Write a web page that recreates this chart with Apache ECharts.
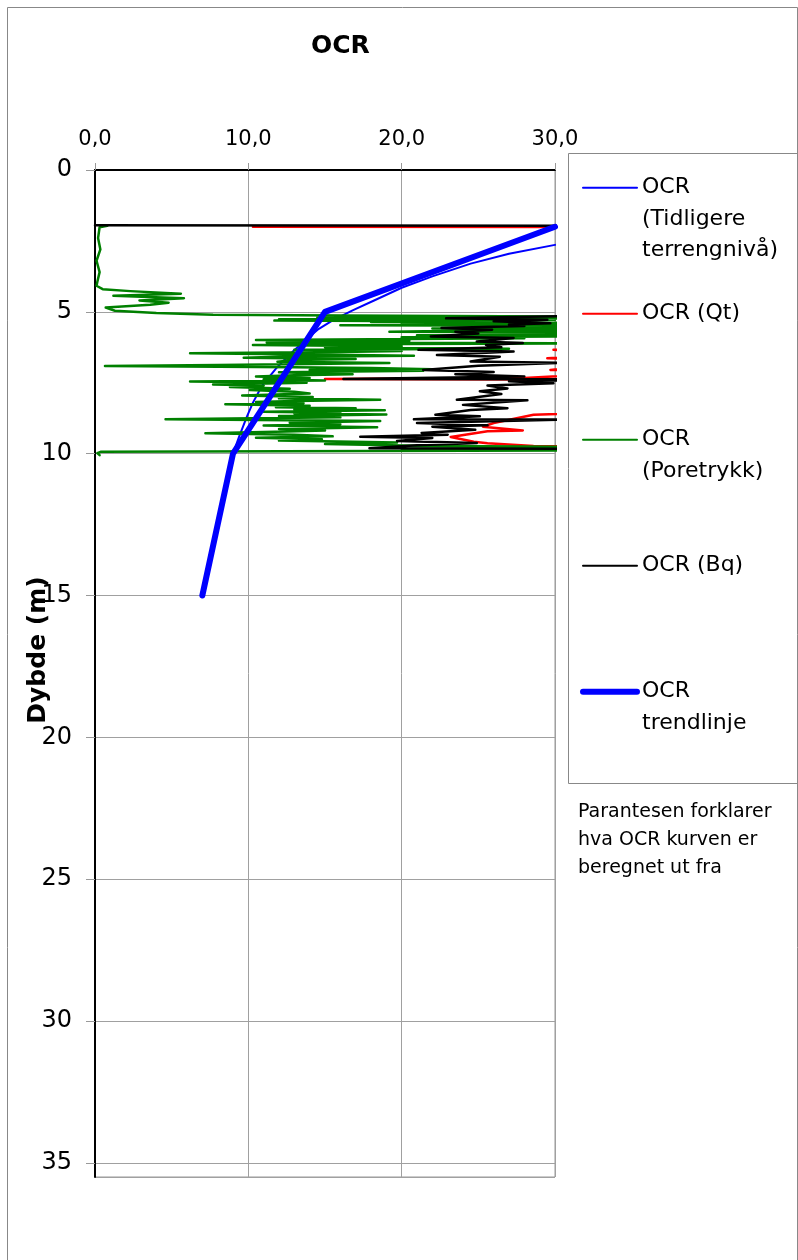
<!DOCTYPE html>
<html>
<head>
<meta charset="utf-8">
<title>OCR</title>
<script src="https://cdn.jsdelivr.net/npm/echarts@6.0.0/dist/echarts.min.js"></script>
<style>
    html, body { margin: 0; padding: 0; background: #fff; }
    #chart { width: 798px; height: 1260px; }
</style>
</head>
<body>
<div id="chart"></div>
<script>
/*==================== data (OCR, dybde m) ====================*/
var seriesNames = ['OCR (Tidligere terrengnivå)', 'OCR (Qt)', 'OCR (Poretrykk)', 'OCR (Bq)', 'OCR trendlinje'];
var legendLabels = [
    '\n\nOCR\n(Tidligere\nterrengnivå)',
    '\nOCR (Qt)\n',
    '\n\nOCR\n(Poretrykk)\n',
    '\nOCR (Bq)\n',
    '\n\nOCR\ntrendlinje\n'
];
var seriesColors = ['#0000ff', '#ff0000', '#008000', '#000000', '#0000ff'];
var seriesWidths = [2, 2.5, 2.5, 2.5, 6];
var legendWidths = [2, 2, 2, 2, 6];

var ocrTidligere = [
    [30, 2.64], [27, 2.95], [24.5, 3.3], [22, 3.75], [20, 4.15], [18.2, 4.6], [16.8, 4.95],
    [15.5, 5.3], [14.6, 5.6], [14.0, 5.87], [12.9, 6.4], [11.8, 7.0], [10.9, 7.6],
    [10.3, 8.2], [9.9, 8.7], [9.4, 9.4], [9.0, 10.0]
];
var ocrQt = [
    [10.3, 2.0], [36, 2.01], [36, 6.3], [29.9, 6.34], [36, 6.4], [29.5, 6.64], [36, 6.7],
    [29.7, 7.05], [36, 7.1], [28, 7.33], [15, 7.37], [36, 7.39], [36, 8.5], [28.6, 8.63],
    [26, 8.92], [25.3, 9.05], [27.9, 9.18], [25.6, 9.21], [23.2, 9.41], [24.7, 9.58],
    [25.6, 9.63], [28.6, 9.73], [36, 9.78]
];
var ocrPoretrykk = [
    [0.8, 1.97], [0.3, 2.02], [0.2, 2.4], [0.35, 2.8], [0.1, 3.2], [0.3, 3.6], [0.15, 3.95],
    [0.1, 4.08], [0.5, 4.2], [2.3, 4.27], [5.6, 4.36], [1.2, 4.43], [5.8, 4.52], [2.9, 4.6],
    [4.8, 4.68], [3.6, 4.75], [0.7, 4.85], [1.3, 4.96], [4.0, 5.04], [7.7, 5.1], [16, 5.13],
    [34, 5.17], [14.5, 5.2], [35, 5.23], [12, 5.26], [30, 5.28], [11.7, 5.31], [22, 5.33],
    [18, 5.36], [33, 5.39], [20, 5.41], [35, 5.44], [16, 5.47], [34, 5.5], [24, 5.53],
    [35, 5.56], [22, 5.59], [33, 5.62], [26, 5.65], [19.2, 5.7], [35, 5.73], [25, 5.77],
    [34, 5.8], [21, 5.83], [35, 5.86], [20, 5.9], [28, 5.93], [10.5, 5.99], [20.5, 6.02],
    [13, 6.04], [17, 6.06], [11.2, 6.08], [35, 6.11], [15, 6.14], [10.3, 6.17], [20, 6.21],
    [15, 6.25], [27, 6.3], [13, 6.34], [20, 6.38], [16, 6.42], [6.2, 6.46], [14, 6.5],
    [20.8, 6.55], [12, 6.58], [9.7, 6.62], [17, 6.66], [13, 6.7], [11.9, 6.76], [19.2, 6.8],
    [14, 6.84], [8, 6.87], [0.65, 6.91], [13, 6.95], [18, 6.98], [22, 7.02], [14, 7.05],
    [21.4, 7.08], [12, 7.13], [16.8, 7.2], [13, 7.24], [10.5, 7.28], [14, 7.33], [11, 7.38],
    [15, 7.42], [6.2, 7.46], [13.8, 7.5], [7.7, 7.56], [11, 7.6], [8.8, 7.65], [12.7, 7.71],
    [10.1, 7.76], [13, 7.82], [14, 7.88], [9.6, 7.95], [14.2, 8.0], [12, 8.05], [18.6, 8.1],
    [13, 8.14], [10.5, 8.18], [13.6, 8.22], [8.5, 8.26], [14, 8.31], [11.8, 8.36], [17, 8.4],
    [13, 8.43], [18.9, 8.47], [11, 8.52], [16, 8.56], [13, 8.58], [19, 8.62], [12, 8.67],
    [16, 8.72], [4.6, 8.79], [18.6, 8.85], [12.7, 8.91], [16, 8.96], [11, 9.01], [18.4, 9.07],
    [12, 9.13], [15, 9.18], [12.5, 9.22], [7.2, 9.28], [13, 9.33], [15.5, 9.39], [10.5, 9.44],
    [14.8, 9.49], [12, 9.54], [19.7, 9.61], [15, 9.66], [21, 9.72], [35, 9.78], [20, 9.83],
    [35, 9.88], [0.4, 9.93], [0.15, 9.98], [0.3, 10.05]
];
var ocrBq = [
    [0, 1.95], [36, 1.97], [36, 5.1], [22.9, 5.23], [29.5, 5.28], [26, 5.33], [29.7, 5.4],
    [27, 5.45], [28, 5.5], [22.6, 5.57], [25.9, 5.63], [23.5, 5.7], [25, 5.76], [21.9, 5.87],
    [27.3, 5.92], [24.9, 6.05], [27.9, 6.1], [25.5, 6.17], [26.5, 6.25], [21.1, 6.34],
    [27.3, 6.4], [22.3, 6.52], [26.4, 6.58], [24.5, 6.75], [30.5, 6.8], [25, 6.9], [21.4, 7.05],
    [26, 7.12], [23.5, 7.2], [28, 7.28], [16.2, 7.37], [35, 7.38], [27, 7.45], [29.9, 7.52],
    [25.6, 7.6], [26.9, 7.7], [25.1, 7.8], [26.5, 7.9], [23.6, 8.1], [28.2, 8.12], [24, 8.28],
    [26.9, 8.4], [24.5, 8.46], [22.2, 8.63], [25.1, 8.68], [20.8, 8.79], [30.5, 8.8], [21, 8.92],
    [25.6, 9.0], [22, 9.05], [24.8, 9.16], [21.3, 9.27], [23, 9.33], [17.3, 9.4], [22, 9.45],
    [19.7, 9.55], [24.9, 9.62], [21, 9.7], [17.9, 9.81], [36, 9.83]
];
var ocrTrend = [[30, 2], [15, 5], [9, 10], [7, 15]];

var xMin = 0, xMax = 30, xStep = 10;
var depthMin = 0, depthMax = 35.5, depthStep = 5;

/*==================== chart ====================*/
var myChart = echarts.init(document.getElementById('chart'), null, { renderer: 'canvas' });
var allData = [ocrTidligere, ocrQt, ocrPoretrykk, ocrBq, ocrTrend];

var series = [];
var legendData = [];
for (var i = 0; i < allData.length; i++) {
    series.push({
        name: seriesNames[i],
        type: 'line',
        data: allData[i],
        symbol: 'none',
        showSymbol: false,
        clip: true,
        color: seriesColors[i],
        lineStyle: { color: seriesColors[i], width: seriesWidths[i], cap: 'round', join: 'round' },
        emphasis: { disabled: true }
    });
    legendData.push({
        name: seriesNames[i],
        itemStyle: { opacity: 0 }, // ingen markør i tegnforklaringen
        lineStyle: { color: seriesColors[i], width: legendWidths[i], cap: 'round' }
    });
}

var option = {
    animation: false,
    backgroundColor: '#fff',
    title: {
        text: 'OCR',
        left: 306,
        top: 29,
        textStyle: { fontFamily: 'DejaVu Sans', fontWeight: 'bold', fontSize: 25, color: '#000' }
    },
    grid: { left: 95, top: 170, width: 460, height: 1007, show: true, borderColor: '#999', borderWidth: 1 },
    legend: {
        orient: 'vertical',
        left: 580,
        top: 109,
        padding: 0,
        itemGap: 0,
        itemWidth: 54,
        itemHeight: 14,
        data: legendData,
        selectedMode: false,
        itemStyle: { opacity: 0 },
        formatter: function (name) {
            return legendLabels[seriesNames.indexOf(name)];
        },
        textStyle: { fontFamily: 'DejaVu Sans', fontSize: 22, lineHeight: 31.5, color: '#000' }
    },
    xAxis: {
        type: 'value',
        position: 'top',
        min: xMin,
        max: xMax,
        interval: xStep,
        axisLine: { show: true, lineStyle: { color: '#000', width: 2 } },
        axisTick: { show: true, inside: false, length: 7, lineStyle: { color: '#999' } },
        axisLabel: {
            margin: 20,
            fontFamily: 'DejaVu Sans',
            fontSize: 21,
            color: '#000',
            formatter: function (v) { return v.toFixed(1).replace('.', ','); }
        },
        splitLine: { show: true, lineStyle: { color: '#a0a0a0', width: 1 } }
    },
    yAxis: {
        type: 'value',
        inverse: true,
        min: depthMin,
        max: depthMax,
        interval: depthStep,
        axisLine: { show: true, lineStyle: { color: '#000', width: 2 } },
        axisTick: { show: true, inside: false, length: 9, lineStyle: { color: '#999' } },
        axisLabel: {
            margin: 23,
            fontFamily: 'DejaVu Sans',
            fontSize: 24,
            color: '#000',
            showMaxLabel: false
        },
        splitLine: { show: true, lineStyle: { color: '#a0a0a0', width: 1 } }
    },
    graphic: [
        { // ytre ramme
            type: 'rect', z: -10, silent: true,
            shape: { x: 7.5, y: 7.5, width: 790, height: 1300 },
            style: { fill: 'none', stroke: '#888', lineWidth: 1 }
        },
        { // legend-ramme
            type: 'rect', z: -5, silent: true,
            shape: { x: 568.5, y: 153.5, width: 300, height: 630 },
            style: { fill: 'none', stroke: '#888', lineWidth: 1 }
        },
        { // aksetittel
            type: 'text', silent: true,
            x: 38, y: 650, rotation: Math.PI / 2,
            style: {
                text: 'Dybde (m)', fontFamily: 'DejaVu Sans', fontWeight: 'bold', fontSize: 25,
                fill: '#000', align: 'center', verticalAlign: 'middle'
            }
        },
        { // forklaring
            type: 'text', silent: true,
            x: 578, y: 798,
            style: {
                text: 'Parantesen forklarer\nhva OCR kurven er\nberegnet ut fra',
                fontFamily: 'DejaVu Sans', fontSize: 19, lineHeight: 28, fill: '#000',
                align: 'left', verticalAlign: 'top'
            }
        }
    ],
    series: series
};
myChart.setOption(option);
</script>
</body>
</html>
